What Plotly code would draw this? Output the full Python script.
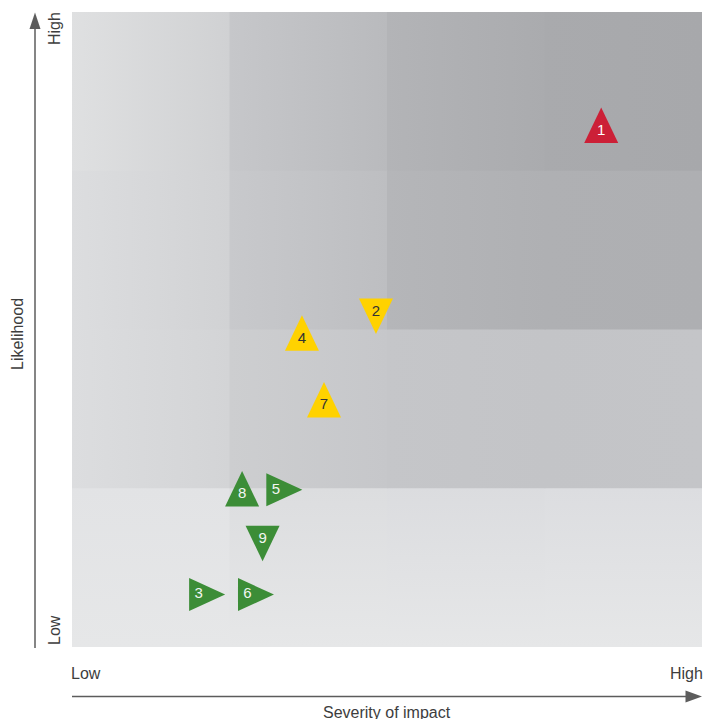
import plotly.graph_objects as go

# ---- data ----
risk_ids = ["1", "2", "3", "4", "5", "6", "7", "8", "9"]
severity = [3.36, 1.93, 0.82, 1.46, 1.31, 1.13, 1.60, 1.08, 1.21]
likelihood = [3.25, 2.12, 0.33, 1.94, 0.99, 0.33, 1.52, 0.96, 0.69]
trend = ["up", "down", "right", "up", "right", "right", "up", "up", "down"]
rating = ["high", "medium", "low", "medium", "low", "low", "medium", "low", "low"]

axis_ticks_low_high = ["Low", "High"]

# ---- styling ----
W, H = 703, 719
ML, MR, MT, MB = 72, 1, 12, 72
PW, PH = W - ML - MR, H - MT - MB
XR, YR = (0, 4), (0, 4)
PX_X = PW / (XR[1] - XR[0])
PX_Y = PH / (YR[1] - YR[0])

fill_colors = {"high": "#cc2037", "medium": "#ffd200", "low": "#3c8d37"}
text_colors = {"high": "#ffffff", "medium": "#333333", "low": "#f2f6f2"}
FONT = "Liberation Sans, Arial, sans-serif"
TXT = "#3d3d3d"
ARROW = "#5c5c5c"

# background cells (row from bottom, col from left): (left colour, right colour)
cell_colors = [
    [("#e2e3e5", "#dcdddf"), ("#dcdddf", "#dbdcdf"), ("#dbdcdf", "#dcdde0"), ("#dcdde0", "#dfe0e2")],
    [("#dcdddf", "#d3d4d6"), ("#cdced0", "#c6c7ca"), ("#c5c6c9", "#c3c4c7"), ("#c3c4c7", "#c4c5c8")],
    [("#dcdddf", "#d1d2d4"), ("#c8c9cc", "#bdbec1"), ("#b5b6b9", "#afb0b3"), ("#afb0b3", "#aeafb2")],
    [("#dfe0e1", "#d0d1d3"), ("#c6c7ca", "#b9babd"), ("#b3b4b7", "#aaabae"), ("#a9aaad", "#a7a8ab")],
]

fig = go.Figure()

ovx, ovy = 1.0 / PX_X, 1.0 / PX_Y
for r, row in enumerate(cell_colors):
    for c, (c0, c1) in enumerate(row):
        x0, x1, y0, y1 = c, c + 1, r, r + 1
        if c < 3:
            x1 += ovx
        if r < 3:
            y1 += ovy
        if r == 0:
            grad = dict(type="vertical", colorscale=[[0, "#e6e7e8"], [1, c0]])
        else:
            grad = dict(type="horizontal", colorscale=[[0, c0], [1, c1]])
        fig.add_trace(go.Scatter(
            x=[x0, x1, x1, x0, x0], y=[y0, y0, y1, y1, y0],
            mode="lines", fill="toself", fillgradient=grad,
            line=dict(width=0), hoverinfo="skip", showlegend=False))

# triangles
BASE, HEIGHT = 34.0, 35.5
text_x, text_y = [], []
for i in range(len(risk_ids)):
    cx, cy, d = severity[i], likelihood[i], trend[i]
    hb = BASE / 2
    tx, ty = cx, cy
    if d == "up":
        xs = [cx - hb / PX_X, cx + hb / PX_X, cx, cx - hb / PX_X]
        ys = [cy - HEIGHT / 3 / PX_Y, cy - HEIGHT / 3 / PX_Y, cy + 2 * HEIGHT / 3 / PX_Y, cy - HEIGHT / 3 / PX_Y]
    elif d == "down":
        xs = [cx - hb / PX_X, cx + hb / PX_X, cx, cx - hb / PX_X]
        ys = [cy + HEIGHT / 3 / PX_Y, cy + HEIGHT / 3 / PX_Y, cy - 2 * HEIGHT / 3 / PX_Y, cy + HEIGHT / 3 / PX_Y]
        ty = cy - 2.0 / PX_Y
    else:
        wr, hh = 36.0, 16.5
        xs = [cx - wr / 3 / PX_X, cx - wr / 3 / PX_X, cx + 2 * wr / 3 / PX_X, cx - wr / 3 / PX_X]
        ys = [cy - hh / PX_Y, cy + hh / PX_Y, cy, cy - hh / PX_Y]
        tx = cx - 2.5 / PX_X
    text_x.append(tx)
    text_y.append(ty)
    fig.add_trace(go.Scatter(
        x=xs, y=ys, mode="lines", fill="toself",
        fillcolor=fill_colors[rating[i]], line=dict(width=0),
        hoverinfo="skip", showlegend=False))

fig.add_trace(go.Scatter(
    x=text_x, y=text_y, mode="text", text=risk_ids,
    textposition="middle center",
    textfont=dict(family=FONT, size=15, color=[text_colors[r] for r in rating]),
    hoverinfo="text", showlegend=False))


def px2paper(px, py):
    return (px - ML) / PW, (MT + PH - py) / PH


shapes = []
# y arrow
xa0, ya0 = px2paper(35, 648)
xa1, ya1 = px2paper(35, 26)
shapes.append(dict(type="line", xref="paper", yref="paper", x0=xa0, y0=ya0, x1=xa1, y1=ya1,
                   line=dict(color=ARROW, width=1.5)))
t = px2paper(35, 12.5); b1 = px2paper(29.5, 29); b2 = px2paper(40.5, 29)
shapes.append(dict(type="path", xref="paper", yref="paper",
                   path=f"M{t[0]},{t[1]} L{b1[0]},{b1[1]} L{b2[0]},{b2[1]} Z",
                   fillcolor=ARROW, line=dict(width=0)))
# x arrow
xa0, ya0 = px2paper(72, 696.5)
xa1, ya1 = px2paper(688, 696.5)
shapes.append(dict(type="line", xref="paper", yref="paper", x0=xa0, y0=ya0, x1=xa1, y1=ya1,
                   line=dict(color=ARROW, width=1.5)))
t = px2paper(702, 696.5); b1 = px2paper(685.5, 690.5); b2 = px2paper(685.5, 702.5)
shapes.append(dict(type="path", xref="paper", yref="paper",
                   path=f"M{t[0]},{t[1]} L{b1[0]},{b1[1]} L{b2[0]},{b2[1]} Z",
                   fillcolor=ARROW, line=dict(width=0)))

annotations = []
def ann(text, px, py, xanchor="center", yanchor="middle", angle=0):
    x, y = px2paper(px, py)
    annotations.append(dict(text=text, x=x, y=y, xref="paper", yref="paper",
                            xanchor=xanchor, yanchor=yanchor, textangle=angle,
                            showarrow=False, font=dict(family=FONT, size=16, color=TXT)))

ann(axis_ticks_low_high[1], 54, 29, angle=-90)
ann(axis_ticks_low_high[0], 54, 630, angle=-90)
ann("Likelihood", 17, 334, angle=-90)
ann(axis_ticks_low_high[0], 69, 673.5, xanchor="left")
ann(axis_ticks_low_high[1], 705, 673.5, xanchor="right")
ann("Severity of impact", 387, 712.5)

fig.update_layout(
    width=W, height=H,
    margin=dict(l=ML, r=MR, t=MT, b=MB),
    paper_bgcolor="white", plot_bgcolor="white",
    xaxis=dict(range=list(XR), visible=False, fixedrange=True),
    yaxis=dict(range=list(YR), visible=False, fixedrange=True),
    shapes=shapes, annotations=annotations, showlegend=False,
)

fig.write_html(
    "out.html",
    config={"displayModeBar": False},
    post_script=("document.body.style.margin='0';"
                 "document.body.style.overflow='hidden';"
                 "document.documentElement.style.overflow='hidden';"),
)
